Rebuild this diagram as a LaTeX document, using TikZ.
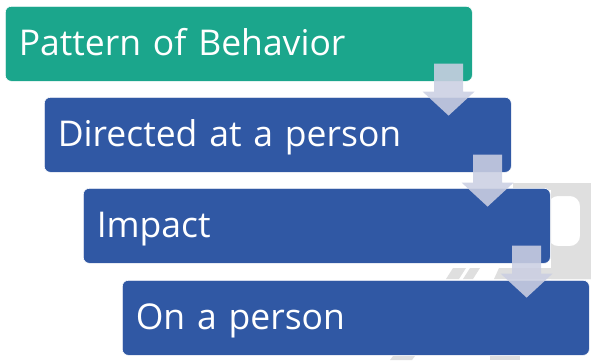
\documentclass[tikz,border=0pt]{standalone}
\usepackage{fontspec}
\setmainfont{Open Sans}
\usetikzlibrary{calc}
\definecolor{stepteal}{RGB}{27,166,140}
\definecolor{stepblue}{RGB}{48,88,164}
\definecolor{flowgray}{RGB}{203,207,226}
\definecolor{logogray}{RGB}{223,223,223}
\begin{document}
\begin{tikzpicture}[x=1pt,y=-1pt]
        \tikzstyle{stage}=[draw=white,line width=0.6pt,rounded corners=6pt,fill=stepblue,text=white,anchor=north west,minimum width=467pt,minimum height=75pt,inner xsep=13.5pt,text width=440pt,align=left,text height=28pt,text depth=5pt,font=\fontsize{35.5}{40}\selectfont]
        \tikzstyle{flow}=[fill=flowgray,fill opacity=0.88]
        \tikzstyle{logo}=[fill=logogray]
       \useasboundingbox (0,0) rectangle (591,360);
       % faint watermark behind the boxes
       \begin{scope}
         \path[logo] (513,183) rectangle (591,190);
         \path[logo,even odd rule] (551,183) rectangle (591,279) [rounded corners=10pt] (548,196) rectangle (580,246);
         \path[logo] (446,279) -- (453,268) -- (466,268) -- (459,279) -- cycle;
         \path[logo] (463,279) -- (470,268) -- (480,268) -- (473,279) -- cycle;
         \path[logo] (494,279) -- (499,268) -- (591,268) -- (591,279) -- cycle;
         \path[logo] (390,360) -- (393,356) -- (415,356) -- (412,360) -- cycle;
         \path[logo] (490,356) rectangle (520,360);
       \end{scope}
       \begin{scope}
         \node [stage,fill=stepteal] (b1) at (5,6) {Pattern of Behavior};
         \node [stage] (b2) at (44,97) {Directed at a person};
         \node [stage] (b3) at (83,188) {Impact};
         \node [stage] (b4) at (122,280) {On a person};
         \foreach \a in {b1,b2,b3}
           \path[flow] ($(\a.south east)+(-38.5,-18)$) -- ++(29,0) -- ++(0,28) -- ++(11.5,0)
             -- ++(-26,24) -- ++(-26,-24) -- ++(11.5,0) -- cycle;
       \end{scope}
      \end{tikzpicture}
\end{document}
